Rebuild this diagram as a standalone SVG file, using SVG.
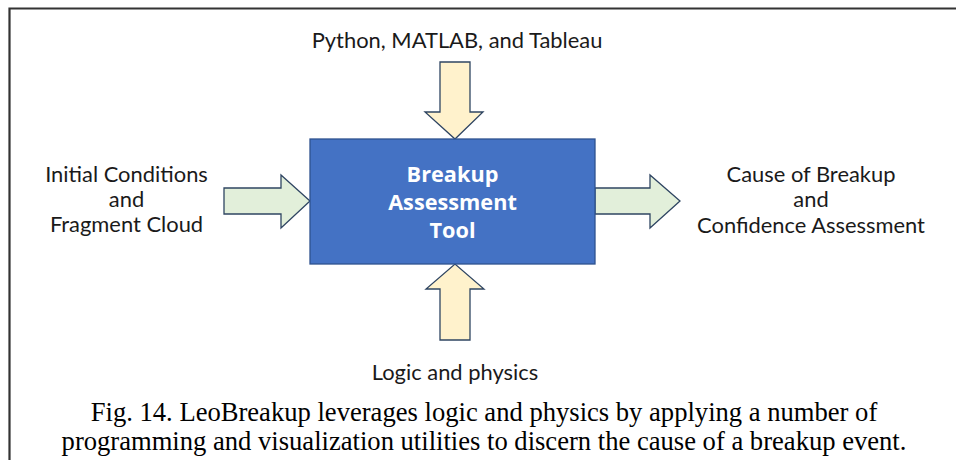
<svg xmlns="http://www.w3.org/2000/svg" width="956" height="460" viewBox="0 0 956 460">
<style>
.lbl{font-family:Lato,"Open Sans","Liberation Sans",sans-serif;font-size:21.9px;fill:#1a1a1a;text-anchor:middle}
.box-t{font-family:"Open Sans",Lato,"Liberation Sans",sans-serif;font-size:21.7px;font-weight:bold;fill:#ffffff;text-anchor:middle}
.cap{font-family:"Liberation Serif","Times New Roman",serif;font-size:26.6px;fill:#000;text-anchor:middle}
.ya{fill:#FFF2CC;stroke:#2F4562;stroke-width:1.3}
.ga{fill:#E2EFDA;stroke:#2F4562;stroke-width:1.3}
</style>
<rect width="956" height="460" fill="#ffffff"/>
<path d="M9.5 460 V8.5 H956" fill="none" stroke="#333" stroke-width="2.2"/>
<g id="connectors">
<polygon class="ya" points="440,62 470,62 470,112 483,112 455,139 425,112 440,112"/>
<polygon class="ya" points="440,340 470,340 470,289 484,289 455,264 426,289 440,289"/>
<polygon class="ga" points="224,188 281,188 281,175 310,201 281,228 281,214 224,214"/>
<polygon class="ga" points="595,188 650,188 650,175 680,201 650,228 650,214 595,214"/>
</g>
<g id="tool">
<rect x="310" y="139" width="285" height="125" fill="#4472C4" stroke="#2F528F" stroke-width="1.3"/>
<text class="box-t" x="452.5" y="182">Breakup</text>
<text class="box-t" x="452.5" y="210">Assessment</text>
<text class="box-t" x="452.5" y="238">Tool</text>
</g>
<g id="software">
<text class="lbl" x="457" y="48">Python, MATLAB, and Tableau</text>
</g>
<g id="inputs">
<text class="lbl" x="126.5" y="182">Initial Conditions</text>
<text class="lbl" x="126.5" y="207">and</text>
<text class="lbl" x="126.5" y="232">Fragment Cloud</text>
</g>
<g id="outputs">
<text class="lbl" x="811" y="182">Cause of Breakup</text>
<text class="lbl" x="811" y="207">and</text>
<text class="lbl" x="811" y="233">Confidence Assessment</text>
</g>
<g id="logic">
<text class="lbl" x="455" y="380">Logic and physics</text>
</g>
<g id="caption">
<text class="cap" x="484" y="421">Fig. 14. LeoBreakup leverages logic and physics by applying a number of</text>
<text class="cap" x="484" y="450">programming and visualization utilities to discern the cause of a breakup event.</text>
</g>
</svg>
